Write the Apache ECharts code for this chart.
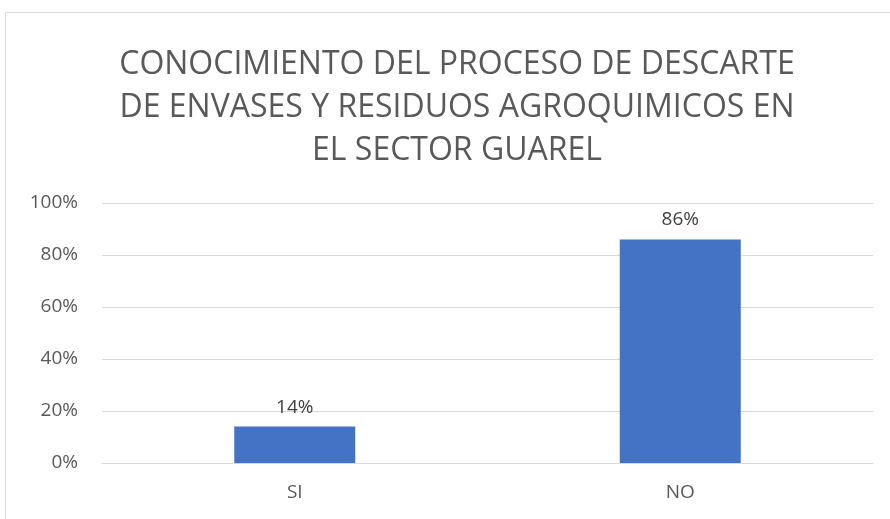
<!DOCTYPE html>
<html>
<head>
<meta charset="utf-8">
<script src="https://cdn.jsdelivr.net/npm/echarts@6/dist/echarts.min.js"></script>
<style>
  html, body { margin: 0; padding: 0; background: #fff; }
  #chart { width: 890px; height: 519px; }
</style>
</head>
<body>
<div id="chart"></div>
<script>
const categories = ['SI', 'NO'];
const values = [14, 86];
const titleText = 'CONOCIMIENTO DEL PROCESO DE DESCARTE\nDE ENVASES Y RESIDUOS AGROQUIMICOS EN\nEL SECTOR GUAREL';

const myechart = echarts.init(document.getElementById('chart'));
const option = {
  backgroundColor: '#fff',
  graphic: [{
    // marco del gráfico
    type: 'rect',
    shape: { x: 5.5, y: 12.5, width: 900, height: 600 },
    style: { fill: 'none', stroke: '#d9d9d9', lineWidth: 1 },
    silent: true
  }],
  title: {
    text: titleText,
    left: 452,
    textAlign: 'center',
    top: 38,
    textStyle: {
      fontFamily: 'Open Sans, sans-serif',
      fontWeight: 'normal',
      fontSize: 32,
      lineHeight: 43,
      color: '#595959'
    }
  },
  grid: {
    left: 102,
    right: 17,
    top: 203,
    bottom: 56
  },
  xAxis: {
    type: 'category',
    data: categories,
    axisTick: { show: false },
    axisLine: { lineStyle: { color: '#d9d9d9', width: 1 } },
    axisLabel: {
      color: '#595959',
      fontSize: 19,
      fontFamily: 'Open Sans, sans-serif',
      margin: 20
    }
  },
  yAxis: {
    type: 'value',
    min: 0,
    max: 100,
    interval: 20,
    axisLine: { show: false },
    axisTick: { show: false },
    splitLine: { lineStyle: { color: '#d9d9d9', width: 1 } },
    axisLabel: {
      color: '#595959',
      fontSize: 19,
      fontFamily: 'Open Sans, sans-serif',
      margin: 24,
      formatter: '{value}%'
    }
  },
  series: [{
    type: 'bar',
    data: values,
    barWidth: 121,
    itemStyle: { color: '#4472c4' },
    label: {
      show: true,
      position: 'top',
      distance: 10,
      color: '#404040',
      fontSize: 19,
      fontFamily: 'Open Sans, sans-serif',
      formatter: '{c}%'
    },
    animation: false
  }],
  animation: false
};
myechart.setOption(option);
</script>
</body>
</html>
